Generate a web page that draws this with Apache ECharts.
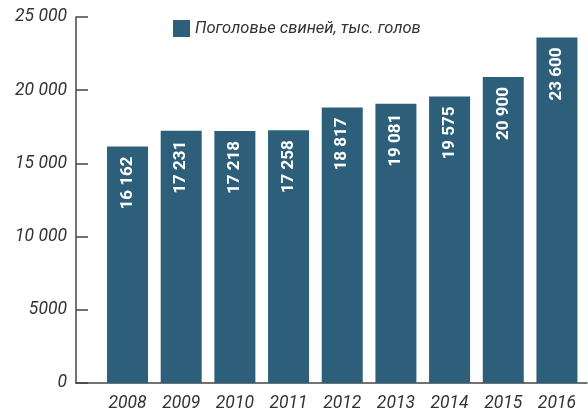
<!DOCTYPE html>
<html><head><meta charset="utf-8">
<script src="https://cdn.jsdelivr.net/npm/echarts@6/dist/echarts.min.js"></script>
<style>html,body{margin:0;padding:0;background:#fff}#c{width:588px;height:413px}</style>
</head><body><div id="c"></div>
<script>
const years = [2008, 2009, 2010, 2011, 2012, 2013, 2014, 2015, 2016];
const pigs = [16162, 17231, 17218, 17258, 18817, 19081, 19575, 20900, 23600];
const yTicks = [0, 5000, 10000, 15000, 20000, 25000];
const yTickLabels = ['0', '5000', '10 000', '15 000', '20 000', '25 000'];
const seriesName = 'Поголовье свиней, тыс. голов';

function fmtNum(v) {
  return String(v).replace(/\B(?=(\d{3})+(?!\d))/g, ' ');
}

const chart = echarts.init(document.getElementById('c'));
chart.setOption({
  animation: false,
  grid: { left: 76, right: 1, top: 17, bottom: 28 },
  legend: {
    left: 168, top: 15,
    itemWidth: 17, itemHeight: 17, itemGap: 8,
    icon: 'rect',
    textStyle: { fontFamily: 'Roboto', fontStyle: 'italic', fontSize: 16.5, color: '#333' },
    data: [seriesName]
  },
  xAxis: {
    type: 'value',
    min: 2007.04, max: 2016.56,
    splitLine: { show: false },
    axisTick: { show: false },
    axisLine: { show: true, lineStyle: { color: '#444', width: 1.5 } },
    axisLabel: {
      customValues: years,
      formatter: v => String(v),
      margin: 12,
      fontFamily: 'Roboto', fontStyle: 'italic', fontSize: 17.5, color: '#333'
    }
  },
  yAxis: {
    type: 'value',
    min: 0, max: 25000, interval: 5000,
    splitLine: { show: false },
    axisLine: { show: true, lineStyle: { color: '#444', width: 1.5 } },
    axisTick: { show: true, inside: true, length: 12, lineStyle: { color: '#444', width: 1.5 } },
    axisLabel: {
      margin: 9,
      formatter: v => yTickLabels[yTicks.indexOf(v)] ?? String(v),
      fontFamily: 'Roboto', fontStyle: 'italic', fontSize: 17.5, color: '#333'
    }
  },
  series: [{
    name: seriesName,
    type: 'bar',
    barWidth: 41,
    itemStyle: { color: '#2d5f7a' },
    data: years.map((y, i) => [y, pigs[i]]),
    label: {
      show: true,
      position: 'insideTop',
      rotate: 90,
      align: 'right',
      verticalAlign: 'middle',
      distance: 10,
      formatter: p => fmtNum(p.value[1]),
      color: '#fff',
      fontFamily: 'Roboto',
      fontWeight: 'bold',
      fontSize: 17
    }
  }]
});
</script>
</body></html>
